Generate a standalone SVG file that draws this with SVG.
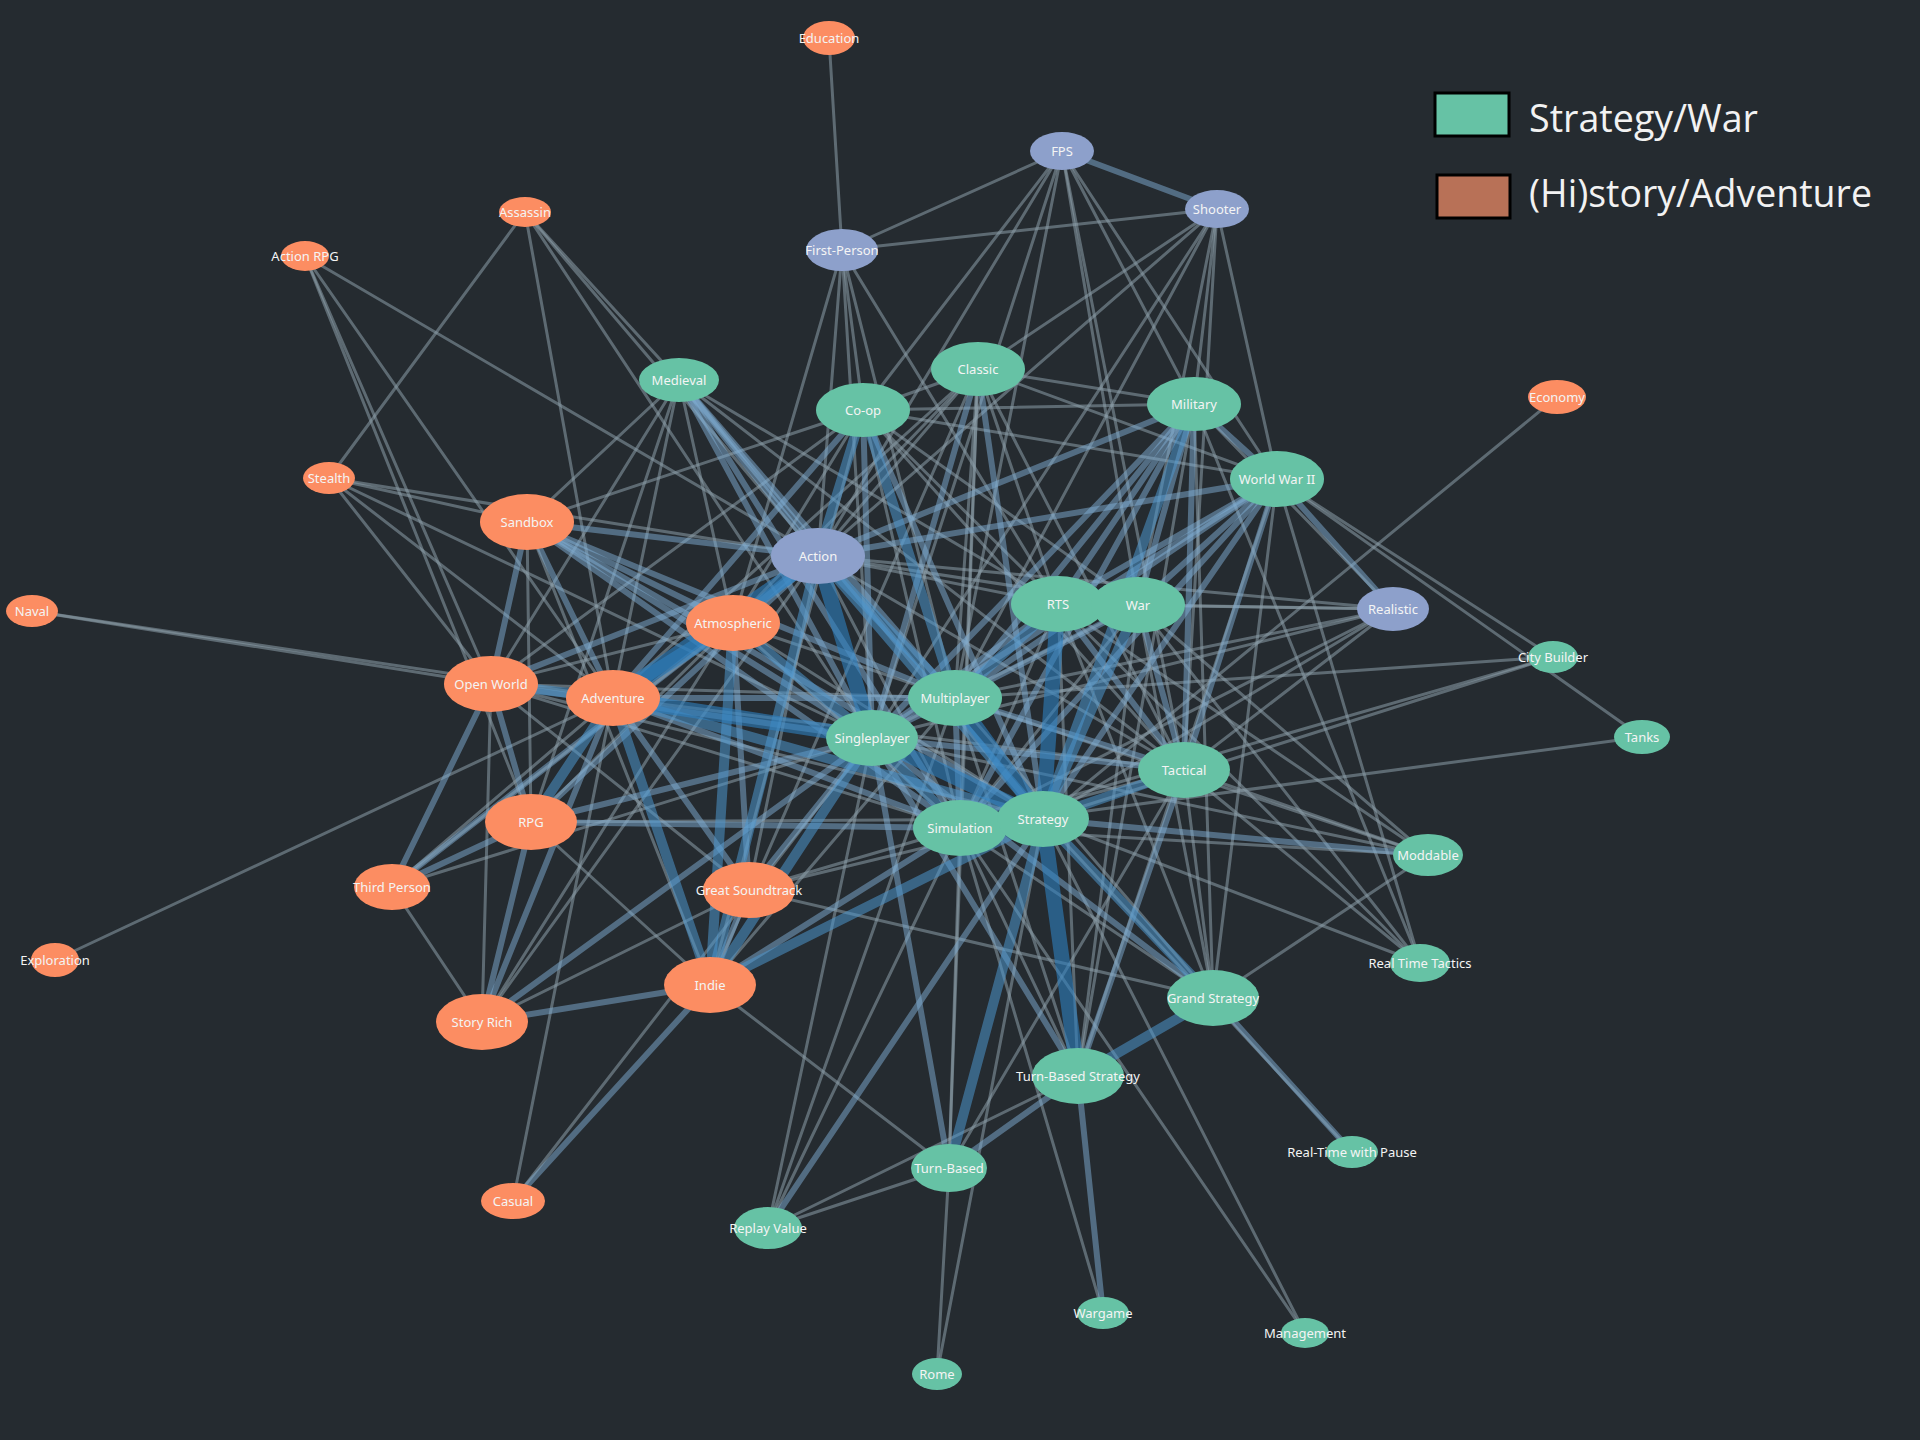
<svg xmlns="http://www.w3.org/2000/svg" width="1920" height="1440" viewBox="0 0 1920 1440">
<style>
.bg{fill:#252b30}
line{stroke-linecap:round}
.e1{stroke:#8d9eaa;stroke-width:3;stroke-opacity:.55}
.e2{stroke:#80aed3;stroke-width:6;stroke-opacity:.5}
.e3{stroke:#4d95cc;stroke-width:10;stroke-opacity:.55}
.e4{stroke:#2f81bf;stroke-width:15;stroke-opacity:.6}
.g{fill:#66c2a5}
.o{fill:#fc8d62}
.p{fill:#8da0cb}
.n text{font-family:"Noto Sans","DejaVu Sans",sans-serif;font-size:13px;fill:#f4f4f4;text-anchor:middle}
.lg{font-family:"Open Sans","Liberation Sans",sans-serif;font-size:38px;fill:#f2f2f2}
</style>
<rect class="bg" x="0" y="0" width="1920" height="1440"/>
<g id="connectors">
<g class="e1">
<line x1="829" y1="38" x2="842" y2="250"/>
<line x1="1062" y1="151" x2="842" y2="250"/>
<line x1="1062" y1="151" x2="818" y2="556"/>
<line x1="1062" y1="151" x2="872" y2="738"/>
<line x1="1062" y1="151" x2="955" y2="698"/>
<line x1="1062" y1="151" x2="1194" y2="404"/>
<line x1="1062" y1="151" x2="1277" y2="479"/>
<line x1="1062" y1="151" x2="1138" y2="605"/>
<line x1="1062" y1="151" x2="1184" y2="770"/>
<line x1="1062" y1="151" x2="863" y2="410"/>
<line x1="1217" y1="209" x2="842" y2="250"/>
<line x1="1217" y1="209" x2="818" y2="556"/>
<line x1="1217" y1="209" x2="872" y2="738"/>
<line x1="1217" y1="209" x2="955" y2="698"/>
<line x1="1217" y1="209" x2="1138" y2="605"/>
<line x1="1217" y1="209" x2="1277" y2="479"/>
<line x1="1217" y1="209" x2="978" y2="369"/>
<line x1="1217" y1="209" x2="1194" y2="404"/>
<line x1="1217" y1="209" x2="1184" y2="770"/>
<line x1="842" y1="250" x2="863" y2="410"/>
<line x1="842" y1="250" x2="733" y2="623"/>
<line x1="842" y1="250" x2="818" y2="556"/>
<line x1="842" y1="250" x2="872" y2="738"/>
<line x1="842" y1="250" x2="955" y2="698"/>
<line x1="842" y1="250" x2="1058" y2="604"/>
<line x1="525" y1="212" x2="329" y2="478"/>
<line x1="525" y1="212" x2="613" y2="698"/>
<line x1="525" y1="212" x2="679" y2="380"/>
<line x1="525" y1="212" x2="818" y2="556"/>
<line x1="525" y1="212" x2="872" y2="738"/>
<line x1="305" y1="256" x2="491" y2="684"/>
<line x1="305" y1="256" x2="613" y2="698"/>
<line x1="305" y1="256" x2="818" y2="556"/>
<line x1="305" y1="256" x2="531" y2="822"/>
<line x1="329" y1="478" x2="527" y2="522"/>
<line x1="329" y1="478" x2="818" y2="556"/>
<line x1="329" y1="478" x2="491" y2="684"/>
<line x1="329" y1="478" x2="613" y2="698"/>
<line x1="329" y1="478" x2="872" y2="738"/>
<line x1="32" y1="611" x2="491" y2="684"/>
<line x1="32" y1="611" x2="613" y2="698"/>
<line x1="55" y1="960" x2="613" y2="698"/>
<line x1="1557" y1="397" x2="1043" y2="819"/>
<line x1="1277" y1="479" x2="1553" y2="657"/>
<line x1="1277" y1="479" x2="1642" y2="737"/>
<line x1="1553" y1="657" x2="955" y2="698"/>
<line x1="1553" y1="657" x2="960" y2="828"/>
<line x1="1553" y1="657" x2="1043" y2="819"/>
<line x1="1642" y1="737" x2="960" y2="828"/>
<line x1="1393" y1="609" x2="818" y2="556"/>
<line x1="1393" y1="609" x2="1138" y2="605"/>
<line x1="1393" y1="609" x2="1058" y2="604"/>
<line x1="1393" y1="609" x2="960" y2="828"/>
<line x1="1393" y1="609" x2="1043" y2="819"/>
<line x1="1393" y1="609" x2="872" y2="738"/>
<line x1="1393" y1="609" x2="955" y2="698"/>
<line x1="1393" y1="609" x2="1184" y2="770"/>
<line x1="1393" y1="609" x2="1194" y2="404"/>
<line x1="1428" y1="855" x2="960" y2="828"/>
<line x1="1428" y1="855" x2="872" y2="738"/>
<line x1="1428" y1="855" x2="955" y2="698"/>
<line x1="1428" y1="855" x2="1058" y2="604"/>
<line x1="1428" y1="855" x2="1184" y2="770"/>
<line x1="1428" y1="855" x2="1213" y2="998"/>
<line x1="1428" y1="855" x2="1138" y2="605"/>
<line x1="1420" y1="963" x2="1138" y2="605"/>
<line x1="1420" y1="963" x2="1058" y2="604"/>
<line x1="1420" y1="963" x2="1184" y2="770"/>
<line x1="1420" y1="963" x2="1043" y2="819"/>
<line x1="1420" y1="963" x2="1277" y2="479"/>
<line x1="1420" y1="963" x2="1194" y2="404"/>
<line x1="1352" y1="1152" x2="1043" y2="819"/>
<line x1="1103" y1="1313" x2="960" y2="828"/>
<line x1="1305" y1="1333" x2="960" y2="828"/>
<line x1="1305" y1="1333" x2="1043" y2="819"/>
<line x1="937" y1="1374" x2="949" y2="1168"/>
<line x1="937" y1="1374" x2="1043" y2="819"/>
<line x1="768" y1="1228" x2="949" y2="1168"/>
<line x1="768" y1="1228" x2="1078" y2="1076"/>
<line x1="768" y1="1228" x2="872" y2="738"/>
<line x1="768" y1="1228" x2="955" y2="698"/>
<line x1="768" y1="1228" x2="960" y2="828"/>
<line x1="513" y1="1201" x2="872" y2="738"/>
<line x1="513" y1="1201" x2="613" y2="698"/>
<line x1="749" y1="890" x2="1213" y2="998"/>
<line x1="679" y1="380" x2="527" y2="522"/>
<line x1="679" y1="380" x2="491" y2="684"/>
<line x1="679" y1="380" x2="613" y2="698"/>
<line x1="679" y1="380" x2="531" y2="822"/>
<line x1="679" y1="380" x2="1058" y2="604"/>
<line x1="679" y1="380" x2="1184" y2="770"/>
<line x1="679" y1="380" x2="733" y2="623"/>
<line x1="978" y1="369" x2="818" y2="556"/>
<line x1="978" y1="369" x2="955" y2="698"/>
<line x1="978" y1="369" x2="1058" y2="604"/>
<line x1="978" y1="369" x2="613" y2="698"/>
<line x1="978" y1="369" x2="733" y2="623"/>
<line x1="978" y1="369" x2="863" y2="410"/>
<line x1="978" y1="369" x2="1194" y2="404"/>
<line x1="978" y1="369" x2="1277" y2="479"/>
<line x1="978" y1="369" x2="1184" y2="770"/>
<line x1="978" y1="369" x2="710" y2="985"/>
<line x1="978" y1="369" x2="960" y2="828"/>
<line x1="978" y1="369" x2="949" y2="1168"/>
<line x1="863" y1="410" x2="710" y2="985"/>
<line x1="863" y1="410" x2="491" y2="684"/>
<line x1="863" y1="410" x2="527" y2="522"/>
<line x1="863" y1="410" x2="1058" y2="604"/>
<line x1="863" y1="410" x2="1194" y2="404"/>
<line x1="863" y1="410" x2="1277" y2="479"/>
<line x1="863" y1="410" x2="1184" y2="770"/>
<line x1="863" y1="410" x2="960" y2="828"/>
<line x1="863" y1="410" x2="733" y2="623"/>
<line x1="863" y1="410" x2="1138" y2="605"/>
<line x1="1194" y1="404" x2="1213" y2="998"/>
<line x1="1194" y1="404" x2="1078" y2="1076"/>
<line x1="1277" y1="479" x2="1213" y2="998"/>
<line x1="1277" y1="479" x2="1078" y2="1076"/>
<line x1="527" y1="522" x2="531" y2="822"/>
<line x1="527" y1="522" x2="710" y2="985"/>
<line x1="818" y1="556" x2="960" y2="828"/>
<line x1="818" y1="556" x2="749" y2="890"/>
<line x1="818" y1="556" x2="482" y2="1022"/>
<line x1="818" y1="556" x2="1138" y2="605"/>
<line x1="818" y1="556" x2="1058" y2="604"/>
<line x1="818" y1="556" x2="1184" y2="770"/>
<line x1="733" y1="623" x2="482" y2="1022"/>
<line x1="733" y1="623" x2="491" y2="684"/>
<line x1="733" y1="623" x2="531" y2="822"/>
<line x1="733" y1="623" x2="1043" y2="819"/>
<line x1="733" y1="623" x2="960" y2="828"/>
<line x1="733" y1="623" x2="955" y2="698"/>
<line x1="1058" y1="604" x2="960" y2="828"/>
<line x1="1058" y1="604" x2="1078" y2="1076"/>
<line x1="1058" y1="604" x2="1213" y2="998"/>
<line x1="1138" y1="605" x2="872" y2="738"/>
<line x1="1138" y1="605" x2="960" y2="828"/>
<line x1="1138" y1="605" x2="1213" y2="998"/>
<line x1="1138" y1="605" x2="1078" y2="1076"/>
<line x1="955" y1="698" x2="710" y2="985"/>
<line x1="955" y1="698" x2="1078" y2="1076"/>
<line x1="955" y1="698" x2="1213" y2="998"/>
<line x1="955" y1="698" x2="491" y2="684"/>
<line x1="1184" y1="770" x2="1213" y2="998"/>
<line x1="1184" y1="770" x2="949" y2="1168"/>
<line x1="1184" y1="770" x2="960" y2="828"/>
<line x1="960" y1="828" x2="1213" y2="998"/>
<line x1="960" y1="828" x2="1078" y2="1076"/>
<line x1="960" y1="828" x2="949" y2="1168"/>
<line x1="960" y1="828" x2="749" y2="890"/>
<line x1="1043" y1="819" x2="531" y2="822"/>
<line x1="1043" y1="819" x2="749" y2="890"/>
<line x1="491" y1="684" x2="749" y2="890"/>
<line x1="491" y1="684" x2="482" y2="1022"/>
<line x1="491" y1="684" x2="1043" y2="819"/>
<line x1="491" y1="684" x2="960" y2="828"/>
<line x1="613" y1="698" x2="392" y2="887"/>
<line x1="613" y1="698" x2="1184" y2="770"/>
<line x1="392" y1="887" x2="482" y2="1022"/>
<line x1="392" y1="887" x2="872" y2="738"/>
<line x1="392" y1="887" x2="733" y2="623"/>
<line x1="482" y1="1022" x2="749" y2="890"/>
<line x1="710" y1="985" x2="531" y2="822"/>
<line x1="949" y1="1168" x2="710" y2="985"/>
</g>
<g class="e2">
<line x1="1062" y1="151" x2="1217" y2="209"/>
<line x1="1277" y1="479" x2="1393" y2="609"/>
<line x1="1428" y1="855" x2="1043" y2="819"/>
<line x1="1352" y1="1152" x2="1213" y2="998"/>
<line x1="1103" y1="1313" x2="1078" y2="1076"/>
<line x1="513" y1="1201" x2="710" y2="985"/>
<line x1="768" y1="1228" x2="1043" y2="819"/>
<line x1="679" y1="380" x2="872" y2="738"/>
<line x1="679" y1="380" x2="1043" y2="819"/>
<line x1="679" y1="380" x2="818" y2="556"/>
<line x1="679" y1="380" x2="955" y2="698"/>
<line x1="679" y1="380" x2="960" y2="828"/>
<line x1="978" y1="369" x2="1043" y2="819"/>
<line x1="978" y1="369" x2="872" y2="738"/>
<line x1="863" y1="410" x2="872" y2="738"/>
<line x1="863" y1="410" x2="1043" y2="819"/>
<line x1="863" y1="410" x2="613" y2="698"/>
<line x1="1194" y1="404" x2="1138" y2="605"/>
<line x1="1194" y1="404" x2="1277" y2="479"/>
<line x1="1194" y1="404" x2="1184" y2="770"/>
<line x1="1194" y1="404" x2="1058" y2="604"/>
<line x1="1194" y1="404" x2="955" y2="698"/>
<line x1="1194" y1="404" x2="960" y2="828"/>
<line x1="1194" y1="404" x2="872" y2="738"/>
<line x1="1194" y1="404" x2="818" y2="556"/>
<line x1="1277" y1="479" x2="1043" y2="819"/>
<line x1="1277" y1="479" x2="1138" y2="605"/>
<line x1="1277" y1="479" x2="1184" y2="770"/>
<line x1="1277" y1="479" x2="1058" y2="604"/>
<line x1="1277" y1="479" x2="960" y2="828"/>
<line x1="1277" y1="479" x2="955" y2="698"/>
<line x1="1277" y1="479" x2="872" y2="738"/>
<line x1="1277" y1="479" x2="818" y2="556"/>
<line x1="527" y1="522" x2="491" y2="684"/>
<line x1="527" y1="522" x2="613" y2="698"/>
<line x1="527" y1="522" x2="818" y2="556"/>
<line x1="527" y1="522" x2="872" y2="738"/>
<line x1="527" y1="522" x2="733" y2="623"/>
<line x1="527" y1="522" x2="955" y2="698"/>
<line x1="527" y1="522" x2="960" y2="828"/>
<line x1="527" y1="522" x2="1043" y2="819"/>
<line x1="818" y1="556" x2="491" y2="684"/>
<line x1="818" y1="556" x2="531" y2="822"/>
<line x1="818" y1="556" x2="392" y2="887"/>
<line x1="733" y1="623" x2="749" y2="890"/>
<line x1="1058" y1="604" x2="1138" y2="605"/>
<line x1="1058" y1="604" x2="872" y2="738"/>
<line x1="1058" y1="604" x2="1184" y2="770"/>
<line x1="1138" y1="605" x2="1184" y2="770"/>
<line x1="1138" y1="605" x2="955" y2="698"/>
<line x1="955" y1="698" x2="872" y2="738"/>
<line x1="955" y1="698" x2="960" y2="828"/>
<line x1="955" y1="698" x2="1184" y2="770"/>
<line x1="955" y1="698" x2="613" y2="698"/>
<line x1="872" y1="738" x2="531" y2="822"/>
<line x1="872" y1="738" x2="749" y2="890"/>
<line x1="872" y1="738" x2="482" y2="1022"/>
<line x1="872" y1="738" x2="1078" y2="1076"/>
<line x1="872" y1="738" x2="949" y2="1168"/>
<line x1="872" y1="738" x2="1213" y2="998"/>
<line x1="872" y1="738" x2="1184" y2="770"/>
<line x1="872" y1="738" x2="491" y2="684"/>
<line x1="1184" y1="770" x2="1078" y2="1076"/>
<line x1="960" y1="828" x2="710" y2="985"/>
<line x1="960" y1="828" x2="531" y2="822"/>
<line x1="960" y1="828" x2="613" y2="698"/>
<line x1="749" y1="890" x2="710" y2="985"/>
<line x1="749" y1="890" x2="613" y2="698"/>
<line x1="710" y1="985" x2="482" y2="1022"/>
<line x1="491" y1="684" x2="531" y2="822"/>
<line x1="491" y1="684" x2="392" y2="887"/>
<line x1="613" y1="698" x2="482" y2="1022"/>
<line x1="531" y1="822" x2="482" y2="1022"/>
<line x1="531" y1="822" x2="392" y2="887"/>
<line x1="1078" y1="1076" x2="949" y2="1168"/>
</g>
<g class="e3">
<line x1="863" y1="410" x2="955" y2="698"/>
<line x1="863" y1="410" x2="818" y2="556"/>
<line x1="1194" y1="404" x2="1043" y2="819"/>
<line x1="818" y1="556" x2="955" y2="698"/>
<line x1="818" y1="556" x2="1043" y2="819"/>
<line x1="818" y1="556" x2="733" y2="623"/>
<line x1="818" y1="556" x2="710" y2="985"/>
<line x1="733" y1="623" x2="872" y2="738"/>
<line x1="733" y1="623" x2="710" y2="985"/>
<line x1="1058" y1="604" x2="955" y2="698"/>
<line x1="1138" y1="605" x2="1043" y2="819"/>
<line x1="872" y1="738" x2="710" y2="985"/>
<line x1="872" y1="738" x2="960" y2="828"/>
<line x1="1184" y1="770" x2="1043" y2="819"/>
<line x1="960" y1="828" x2="1043" y2="819"/>
<line x1="1043" y1="819" x2="1213" y2="998"/>
<line x1="1043" y1="819" x2="949" y2="1168"/>
<line x1="1043" y1="819" x2="710" y2="985"/>
<line x1="1043" y1="819" x2="613" y2="698"/>
<line x1="1213" y1="998" x2="1078" y2="1076"/>
<line x1="710" y1="985" x2="613" y2="698"/>
<line x1="491" y1="684" x2="613" y2="698"/>
<line x1="613" y1="698" x2="531" y2="822"/>
</g>
<g class="e4">
<line x1="818" y1="556" x2="872" y2="738"/>
<line x1="818" y1="556" x2="613" y2="698"/>
<line x1="733" y1="623" x2="613" y2="698"/>
<line x1="1058" y1="604" x2="1043" y2="819"/>
<line x1="955" y1="698" x2="1043" y2="819"/>
<line x1="872" y1="738" x2="1043" y2="819"/>
<line x1="872" y1="738" x2="613" y2="698"/>
<line x1="1043" y1="819" x2="1078" y2="1076"/>
</g>
</g>
<g id="nodes" class="n">
<g id="n-education"><ellipse class="o" cx="829" cy="38" rx="26" ry="17"/><text x="829" y="43">Education</text></g>
<g id="n-fps"><ellipse class="p" cx="1062" cy="151" rx="32" ry="19"/><text x="1062" y="156">FPS</text></g>
<g id="n-shooter"><ellipse class="p" cx="1217" cy="209" rx="32" ry="19"/><text x="1217" y="214">Shooter</text></g>
<g id="n-first-person"><ellipse class="p" cx="842" cy="250" rx="36" ry="21"/><text x="842" y="255">First-Person</text></g>
<g id="n-assassin"><ellipse class="o" cx="525" cy="212" rx="26" ry="15"/><text x="525" y="217">Assassin</text></g>
<g id="n-action-rpg"><ellipse class="o" cx="305" cy="256" rx="24" ry="15"/><text x="305" y="261">Action RPG</text></g>
<g id="n-medieval"><ellipse class="g" cx="679" cy="380" rx="40" ry="22"/><text x="679" y="385">Medieval</text></g>
<g id="n-classic"><ellipse class="g" cx="978" cy="369" rx="47" ry="27"/><text x="978" y="374">Classic</text></g>
<g id="n-coop"><ellipse class="g" cx="863" cy="410" rx="47" ry="27"/><text x="863" y="415">Co-op</text></g>
<g id="n-military"><ellipse class="g" cx="1194" cy="404" rx="47" ry="27"/><text x="1194" y="409">Military</text></g>
<g id="n-economy"><ellipse class="o" cx="1557" cy="397" rx="29" ry="17"/><text x="1557" y="402">Economy</text></g>
<g id="n-stealth"><ellipse class="o" cx="329" cy="478" rx="26" ry="16"/><text x="329" y="483">Stealth</text></g>
<g id="n-sandbox"><ellipse class="o" cx="527" cy="522" rx="47" ry="28"/><text x="527" y="527">Sandbox</text></g>
<g id="n-wwii"><ellipse class="g" cx="1277" cy="479" rx="47" ry="28"/><text x="1277" y="484">World War II</text></g>
<g id="n-action"><ellipse class="p" cx="818" cy="556" rx="47" ry="28"/><text x="818" y="561">Action</text></g>
<g id="n-naval"><ellipse class="o" cx="32" cy="611" rx="26" ry="16"/><text x="32" y="616">Naval</text></g>
<g id="n-atmospheric"><ellipse class="o" cx="733" cy="623" rx="47" ry="28"/><text x="733" y="628">Atmospheric</text></g>
<g id="n-rts"><ellipse class="g" cx="1058" cy="604" rx="47" ry="28"/><text x="1058" y="609">RTS</text></g>
<g id="n-war"><ellipse class="g" cx="1138" cy="605" rx="47" ry="28"/><text x="1138" y="610">War</text></g>
<g id="n-realistic"><ellipse class="p" cx="1393" cy="609" rx="36" ry="22"/><text x="1393" y="614">Realistic</text></g>
<g id="n-city-builder"><ellipse class="g" cx="1553" cy="657" rx="25" ry="16"/><text x="1553" y="662">City Builder</text></g>
<g id="n-open-world"><ellipse class="o" cx="491" cy="684" rx="47" ry="28"/><text x="491" y="689">Open World</text></g>
<g id="n-adventure"><ellipse class="o" cx="613" cy="698" rx="47" ry="28"/><text x="613" y="703">Adventure</text></g>
<g id="n-multiplayer"><ellipse class="g" cx="955" cy="698" rx="47" ry="28"/><text x="955" y="703">Multiplayer</text></g>
<g id="n-singleplayer"><ellipse class="g" cx="872" cy="738" rx="46" ry="28"/><text x="872" y="743">Singleplayer</text></g>
<g id="n-tanks"><ellipse class="g" cx="1642" cy="737" rx="28" ry="17"/><text x="1642" y="742">Tanks</text></g>
<g id="n-tactical"><ellipse class="g" cx="1184" cy="770" rx="46" ry="28"/><text x="1184" y="775">Tactical</text></g>
<g id="n-rpg"><ellipse class="o" cx="531" cy="822" rx="46" ry="28"/><text x="531" y="827">RPG</text></g>
<g id="n-simulation"><ellipse class="g" cx="960" cy="828" rx="47" ry="28"/><text x="960" y="833">Simulation</text></g>
<g id="n-strategy"><ellipse class="g" cx="1043" cy="819" rx="46" ry="28"/><text x="1043" y="824">Strategy</text></g>
<g id="n-moddable"><ellipse class="g" cx="1428" cy="855" rx="35" ry="21"/><text x="1428" y="860">Moddable</text></g>
<g id="n-third-person"><ellipse class="o" cx="392" cy="887" rx="38" ry="23"/><text x="392" y="892">Third Person</text></g>
<g id="n-great-soundtrack"><ellipse class="o" cx="749" cy="890" rx="46" ry="28"/><text x="749" y="895">Great Soundtrack</text></g>
<g id="n-exploration"><ellipse class="o" cx="55" cy="960" rx="24" ry="17"/><text x="55" y="965">Exploration</text></g>
<g id="n-rtt"><ellipse class="g" cx="1420" cy="963" rx="30" ry="19"/><text x="1420" y="968">Real Time Tactics</text></g>
<g id="n-indie"><ellipse class="o" cx="710" cy="985" rx="46" ry="28"/><text x="710" y="990">Indie</text></g>
<g id="n-grand-strategy"><ellipse class="g" cx="1213" cy="998" rx="46" ry="28"/><text x="1213" y="1003">Grand Strategy</text></g>
<g id="n-story-rich"><ellipse class="o" cx="482" cy="1022" rx="46" ry="28"/><text x="482" y="1027">Story Rich</text></g>
<g id="n-tbs"><ellipse class="g" cx="1078" cy="1076" rx="46" ry="28"/><text x="1078" y="1081">Turn-Based Strategy</text></g>
<g id="n-rtwp"><ellipse class="g" cx="1352" cy="1152" rx="26" ry="16"/><text x="1352" y="1157">Real-Time with Pause</text></g>
<g id="n-turn-based"><ellipse class="g" cx="949" cy="1168" rx="38" ry="24"/><text x="949" y="1173">Turn-Based</text></g>
<g id="n-replay-value"><ellipse class="g" cx="768" cy="1228" rx="34" ry="21"/><text x="768" y="1233">Replay Value</text></g>
<g id="n-wargame"><ellipse class="g" cx="1103" cy="1313" rx="26" ry="16"/><text x="1103" y="1318">Wargame</text></g>
<g id="n-management"><ellipse class="g" cx="1305" cy="1333" rx="24" ry="15"/><text x="1305" y="1338">Management</text></g>
<g id="n-casual"><ellipse class="o" cx="513" cy="1201" rx="32" ry="18"/><text x="513" y="1206">Casual</text></g>
<g id="n-rome"><ellipse class="g" cx="937" cy="1374" rx="25" ry="16"/><text x="937" y="1379">Rome</text></g>
</g>
<g id="legend">
<rect x="1435" y="93" width="74" height="43" fill="#66c2a5" stroke="#000" stroke-width="3"/>
<text class="lg" x="1529" y="132" textLength="229" lengthAdjust="spacingAndGlyphs">Strategy/War</text>
<rect x="1437" y="175" width="73" height="43" fill="#b87157" stroke="#000" stroke-width="3"/>
<text class="lg" x="1529" y="207" textLength="343" lengthAdjust="spacingAndGlyphs">(Hi)story/Adventure</text>
</g>
</svg>
